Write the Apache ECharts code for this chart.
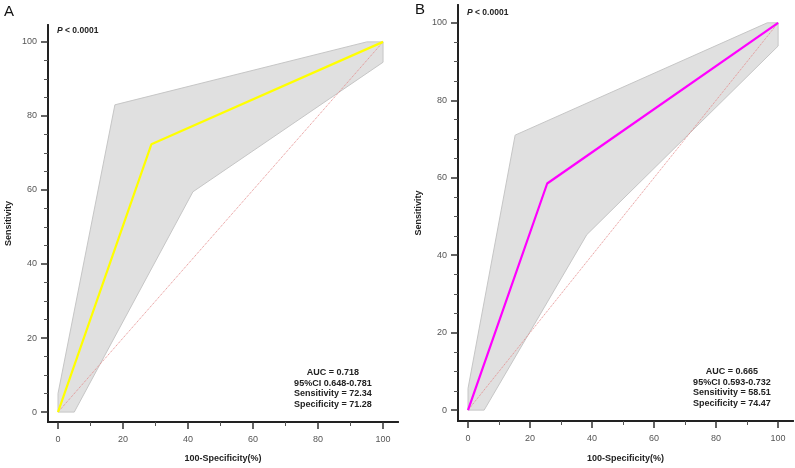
<!DOCTYPE html>
<html>
<head>
<meta charset="utf-8">
<script src="https://cdn.jsdelivr.net/npm/echarts@6/dist/echarts.min.js"></script>
<style>
  html, body { margin: 0; padding: 0; background: #fff; }
  #chart { width: 795px; height: 468px; }
</style>
</head>
<body>
<div id="chart"></div>
<script>
// ROC curves, panel A and panel B
const panelLabels = ['A', 'B']
const pText = 'P < 0.0001'

const rocA = [[0, 0], [28.72, 72.34], [100, 100]]
const bandUpperA = [[0, 0], [0, 5], [17.5, 83], [95, 100], [100, 100]]
const bandLowerA = [[0, 0], [5, 0], [41.5, 59.5], [100, 94.5], [100, 100]]
const statsA = ['AUC = 0.718', '95%CI 0.648-0.781', 'Sensitivity = 72.34', 'Specificity = 71.28']

const rocB = [[0, 0], [25.53, 58.51], [100, 100]]
const bandUpperB = [[0, 0], [0, 5.6], [15.2, 71], [96.5, 100], [100, 100]]
const bandLowerB = [[0, 0], [5.2, 0], [38.3, 45.3], [100, 94], [100, 100]]
const statsB = ['AUC = 0.665', '95%CI 0.593-0.732', 'Sensitivity = 58.51', 'Specificity = 74.47']

const diagonal = [[0, 0], [100, 100]]
const majorTicks = [0, 20, 40, 60, 80, 100]
const minorTicksX = [10, 30, 50, 70, 90]
const minorTicksY = [5, 10, 15, 25, 30, 35, 45, 50, 55, 65, 70, 75, 85, 90, 95]

const narrow = "'Liberation Sans Narrow', 'Liberation Sans', Arial, sans-serif"
const sans = "'Liberation Sans', Arial, sans-serif"

function bandPolygon(upper, lower) {
  return upper.concat(lower.slice().reverse())
}

function majorAxis(kind, grid, min, max, name, nameGap) {
  return {
    type: 'value', gridIndex: grid, min: min, max: max,
    position: kind === 'x' ? 'bottom' : 'left',
    name: name, nameLocation: 'middle', nameGap: nameGap,
    nameRotate: kind === 'x' ? 0 : 90,
    nameTextStyle: { fontFamily: narrow, fontWeight: 'bold', fontSize: 9, color: '#222' },
    axisLine: { show: true, onZero: false, lineStyle: { color: '#222', width: 2 } },
    axisTick: { show: true, customValues: majorTicks, length: 7, lineStyle: { color: '#333', width: 1.5 } },
    axisLabel: {
      show: true, customValues: majorTicks, margin: kind === 'x' ? 13 : 11,
      fontFamily: sans, fontSize: 9, color: '#555'
    },
    splitLine: { show: false }
  }
}

function minorAxis(kind, grid, min, max) {
  return {
    type: 'value', gridIndex: grid, min: min, max: max,
    position: kind === 'x' ? 'bottom' : 'left',
    axisLine: { show: true, onZero: false, lineStyle: { color: '#222', width: 2 } },
    axisTick: { show: true, customValues: kind === 'x' ? minorTicksX : minorTicksY, length: 4, lineStyle: { color: '#555', width: 1 } },
    axisLabel: { show: false },
    splitLine: { show: false }
  }
}

function panelSeries(grid, roc, upper, lower, color) {
  const poly = bandPolygon(upper, lower)
  return [
    {
      type: 'custom', xAxisIndex: grid * 2, yAxisIndex: grid * 2, z: 1,
      data: [[0, 0]], silent: true,
      renderItem: function (params, api) {
        return {
          type: 'polygon',
          shape: { points: poly.map(p => api.coord(p)) },
          style: { fill: '#e0e0e0', stroke: '#c6c6c6', lineWidth: 1 }
        }
      }
    },
    {
      type: 'line', xAxisIndex: grid * 2, yAxisIndex: grid * 2, z: 2,
      data: diagonal, symbol: 'none', silent: true,
      lineStyle: { color: '#e58a8a', width: 1, type: 'dotted' }
    },
    {
      type: 'line', xAxisIndex: grid * 2, yAxisIndex: grid * 2, z: 3,
      data: roc, symbol: 'none', silent: true,
      lineStyle: { color: color, width: 2.2 }
    }
  ]
}

function statsText(lines, x, y) {
  return {
    type: 'text', left: x, top: y,
    style: {
      text: lines.join('\n'), textAlign: 'center', lineHeight: 10.7,
      font: 'bold 9px ' + narrow, fill: '#222'
    }
  }
}

function pLabel(x, y) {
  return {
    type: 'text', left: x, top: y,
    style: {
      text: '{i|P}{b|' + pText.slice(1) + '}',
      rich: {
        i: { fontFamily: sans, fontWeight: 'bold', fontStyle: 'italic', fontSize: 8.5, fill: '#222' },
        b: { fontFamily: sans, fontWeight: 'bold', fontSize: 8.5, fill: '#222' }
      }
    }
  }
}

const chart = echarts.init(document.getElementById('chart'), null, { renderer: 'canvas' })
chart.setOption({
  animation: false,
  backgroundColor: '#fff',
  grid: [
    { left: 48, top: 25, width: 350, height: 400 },
    { left: 458, top: 5, width: 335, height: 420 }
  ],
  xAxis: [
    majorAxis('x', 0, -3.08, 104.6, '100-Specificity(%)', 32),
    minorAxis('x', 0, -3.08, 104.6),
    majorAxis('x', 1, -3.23, 104.8, '100-Specificity(%)', 33),
    minorAxis('x', 1, -3.23, 104.8)
  ],
  yAxis: [
    majorAxis('y', 0, -2.68, 104.56, 'Sensitivity', 35),
    minorAxis('y', 0, -2.68, 104.56),
    majorAxis('y', 1, -2.81, 104.6, 'Sensitivity', 35),
    minorAxis('y', 1, -2.81, 104.6)
  ],
  series: [].concat(
    panelSeries(0, rocA, bandUpperA, bandLowerA, '#ffff00'),
    panelSeries(1, rocB, bandUpperB, bandLowerB, '#ff00ff')
  ),
  graphic: [
    { type: 'text', left: 4, top: 4, style: { text: panelLabels[0], font: '15px ' + sans, fill: '#111' } },
    { type: 'text', left: 415, top: 2, style: { text: panelLabels[1], font: '15px ' + sans, fill: '#111' } },
    pLabel(57, 26),
    pLabel(467, 8),
    statsText(statsA, 294, 367),
    statsText(statsB, 693, 366)
  ]
})
</script>
</body>
</html>
